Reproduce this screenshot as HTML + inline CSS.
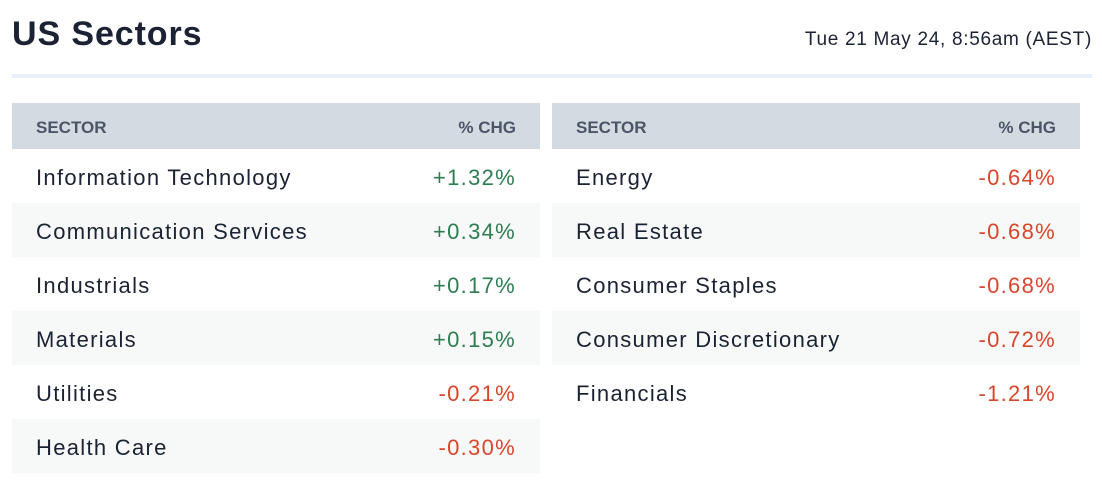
<!DOCTYPE html>
<html><head><meta charset="utf-8"><style>
body{margin:0;width:1102px;height:504px;background:#fff;font-family:"Liberation Sans",sans-serif;color:#1a2233;position:relative;overflow:hidden}
.title{position:absolute;left:12px;top:15px;font-size:34px;font-weight:bold;color:#1a2233;letter-spacing:0.9px}
.date{position:absolute;right:10px;top:29px;font-size:19px;color:#1a2233;letter-spacing:0.7px}
.div{position:absolute;left:12px;top:74px;width:1080px;height:4px;background:#e9eff6}
.tbl{position:absolute;top:103px;width:528px}
.hd{height:46px;background:#d4dae1;display:flex;justify-content:space-between;align-items:center;padding:3px 24px 0;font-size:17px;font-weight:bold;color:#4a5666;box-sizing:border-box}
.r{height:54px;display:flex;justify-content:space-between;align-items:center;padding:4px 24px 0;font-size:22px;box-sizing:border-box;letter-spacing:1.3px}
.r:nth-child(odd){background:#f7f8f8}
.g{color:#2e7d52}.d{color:#d9452b}
</style></head><body>
<div class="title">US Sectors</div>
<div class="date">Tue 21 May 24, 8:56am (AEST)</div>
<div class="div"></div>
<div class="tbl" style="left:12px">
<div class="hd"><span>SECTOR</span><span>% CHG</span></div>
<div class="r"><span>Information Technology</span><span class="g">+1.32%</span></div>
<div class="r"><span>Communication Services</span><span class="g">+0.34%</span></div>
<div class="r"><span>Industrials</span><span class="g">+0.17%</span></div>
<div class="r"><span>Materials</span><span class="g">+0.15%</span></div>
<div class="r"><span>Utilities</span><span class="d">-0.21%</span></div>
<div class="r"><span>Health Care</span><span class="d">-0.30%</span></div>
</div>
<div class="tbl" style="left:552px">
<div class="hd"><span>SECTOR</span><span>% CHG</span></div>
<div class="r"><span>Energy</span><span class="d">-0.64%</span></div>
<div class="r"><span>Real Estate</span><span class="d">-0.68%</span></div>
<div class="r"><span>Consumer Staples</span><span class="d">-0.68%</span></div>
<div class="r"><span>Consumer Discretionary</span><span class="d">-0.72%</span></div>
<div class="r"><span>Financials</span><span class="d">-1.21%</span></div>
</div>
</body></html>
